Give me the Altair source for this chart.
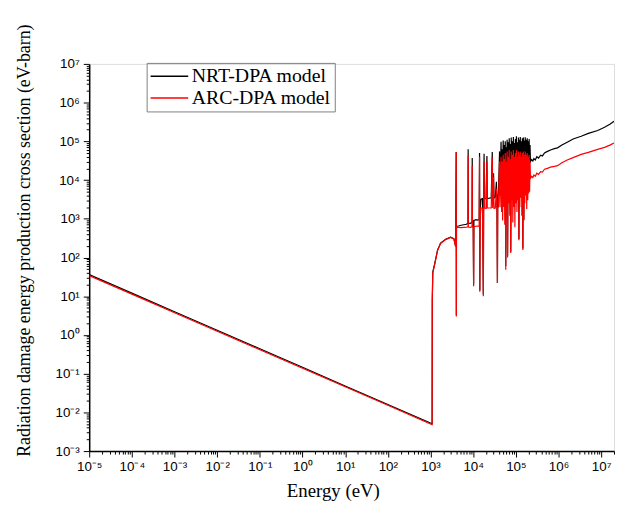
import altair as alt
import pandas as pd

# ---- data (energy in eV, cross section in eV-barn) ----
E_low = [1e-5, 1e-4, 1e-3, 1e-2, 1e-1, 1, 10, 100, 1000, 1090]
nrt_low = [36, 12.0, 3.98, 1.32, 0.44, 0.146, 0.048, 0.016, 0.0053, 0.0051]
arc_low = [34, 11.3, 3.75, 1.25, 0.415, 0.138, 0.046, 0.0152, 0.0050, 0.0048]

E_hump = [1100, 1130, 1250, 1460, 1720, 2260, 2950, 3530, 3880]
nrt_hump = [8, 42, 68, 155, 235, 295, 335, 305, 195]
arc_hump = [8, 40, 65, 150, 230, 290, 330, 300, 190]

E_res = [4000, 4030, 4060, 4500, 5200, 6000, 7000, 7550, 7620, 7700,
         8500, 9400, 9500, 9600, 10000, 10240, 10400, 11500, 12500, 13800]
nrt_res = [53000, 3.2, 640, 650, 680, 700, 720, 780, 62000, 760,
           760, 800, 37000, 850, 880, 20, 900, 950, 920, 950]
arc_res = [53000, 3.0, 600, 600, 590, 600, 610, 620, 42000, 610,
           600, 620, 23000, 620, 600, 18, 620, 640, 650, 640]

E_mid = [14100, 14300, 14600, 15200, 16500, 17300, 17600, 18000, 18300, 20000,
         21000, 21400, 24000, 26500, 28000, 28600, 30000, 30800, 33000, 35000,
         36000, 37000, 37600, 39000, 41500, 42500]
nrt_mid = [50000, 14, 1800, 3200, 3300, 11, 3400, 48000, 3300, 3300,
           42000, 3300, 3400, 3500, 53000, 3400, 15000, 3400, 3600, 9000,
           3800, 22, 4000, 4200, 55000, 4500]
arc_mid = [40000, 13, 1100, 1900, 1900, 10, 1900, 30000, 1900, 1850,
           30000, 1900, 1900, 1900, 38000, 1900, 12000, 1850, 1900, 6000,
           1900, 22, 1950, 2000, 30000, 2000]

E_forest = [45000, 46500, 47500, 49000, 50500, 52000, 53500, 55000, 56500, 58000,
            59500, 61000, 62500, 64000, 66000, 68000, 70000, 72000, 74000, 76000,
            78000, 80000, 82500, 85000, 87500, 90000, 92500, 95000, 97500, 100000,
            103000, 106000, 109000, 112000, 115000, 118000, 121000, 124000, 127000, 130000,
            134000, 138000, 142000, 146000, 150000, 154000, 158000, 162000, 166000, 170000,
            175000, 180000, 185000, 190000, 195000, 200000, 205000, 210000, 215000]
nrt_forest = [98000, 9000, 62000, 12000, 105000, 15000, 80000, 14000, 100000, 60,
              70000, 16000, 110000, 110, 95000, 18000, 120000, 20000, 85000, 140,
              125000, 22000, 100000, 20000, 130000, 25000, 90000, 18000, 115000, 22000,
              135000, 25000, 95000, 20000, 125000, 300, 110000, 26000, 130000, 28000,
              100000, 24000, 120000, 170, 125000, 950, 105000, 26000, 128000, 30000,
              110000, 25000, 120000, 28000, 100000, 30000, 115000, 32000, 80000]
arc_forest = [40000, 1500, 30000, 900, 45000, 2000, 35000, 700, 50000, 48,
              30000, 1800, 55000, 100, 40000, 2500, 60000, 1200, 35000, 130,
              55000, 3000, 45000, 800, 60000, 2000, 40000, 600, 50000, 2500,
              60000, 1500, 40000, 3000, 55000, 280, 45000, 2000, 55000, 3500,
              40000, 1200, 50000, 155, 55000, 900, 45000, 2500, 55000, 4000,
              45000, 1800, 50000, 3000, 40000, 4500, 45000, 5000, 30000]

E_high = [220000, 235000, 250000, 265000, 285000, 310000, 340000, 380000, 420000, 470000,
          550000, 650000, 800000, 950000, 1.2e6, 1.6e6, 2.2e6, 3.4e6, 5e6, 8.3e6,
          1.2e7, 1.6e7, 2e7]
nrt_high = [30000, 34000, 31000, 36000, 33000, 40000, 37000, 44000, 42000, 50000,
            55000, 60000, 65000, 68000, 80000, 95000, 115000, 135000, 160000, 190000,
            230000, 275000, 330000]
arc_high = [11000, 12500, 11500, 13500, 12500, 15000, 14000, 16500, 16000, 19000,
            20000, 21500, 22500, 23500, 28000, 33000, 38000, 46000, 52000, 62000,
            70000, 80000, 91000]

series = ["NRT-DPA model", "ARC-DPA model"]
colors = ["#000000", "#ff0000"]

energy = E_low + E_hump + E_res + E_mid + E_forest + E_high
nrt = nrt_low + nrt_hump + nrt_res + nrt_mid + nrt_forest + nrt_high
arc = arc_low + arc_hump + arc_res + arc_mid + arc_forest + arc_high
assert len(energy) == len(nrt) == len(arc)

df = pd.DataFrame({
    "energy": energy * 2,
    "value": nrt + arc,
    "model": [series[0]] * len(energy) + [series[1]] * len(energy),
    "idx": list(range(len(energy))) * 2,
})

# ---- tick positions (decades with minor ticks) ----
x_ticks = [m * 10.0 ** k for k in range(-5, 8) for m in range(1, 10) if m * 10.0 ** k <= 2.0e7]
y_ticks = [m * 10.0 ** k for k in range(-3, 7) for m in range(1, 10)] + [1e7]

major = "abs(log(datum.value)/LN10 - round(log(datum.value)/LN10)) < 0.001"
sup = "'' + round(log(datum.value)/LN10)"
for a, b in [("-", "⁻"), ("0", "⁰"), ("1", "¹"), ("2", "²"), ("3", "³"), ("4", "⁴"),
             ("5", "⁵"), ("6", "⁶"), ("7", "⁷"), ("8", "⁸"), ("9", "⁹")]:
    sup = f"replace({sup}, '{a}', '{b}')"
label_expr = f"{major} ? '10' + {sup} : ''"
tick_size = {"condition": {"test": major, "value": 6}, "value": 3}

common_axis = dict(
    labelExpr=label_expr, labelOverlap=False, labelFlush=False,
    tickSize=tick_size, tickColor="#000000", tickWidth=1,
    domainColor="#000000", domainWidth=1.5, grid=False,
    labelFont="Liberation Sans", labelFontSize=13.5, labelColor="#000000",
    titleFont="Liberation Serif", titleFontWeight="normal", titleColor="#000000",
)

x_enc = alt.X(
    "energy:Q",
    scale=alt.Scale(type="log", domain=[1e-5, 2e7], nice=False),
    axis=alt.Axis(values=x_ticks, title="Energy (eV)", titleFontSize=19,
                  labelPadding=3, titleX=246, titleY=46,
                  titleBaseline="alphabetic", titleAlign="center", **common_axis),
)
y_enc = alt.Y(
    "value:Q",
    scale=alt.Scale(type="log", domain=[1e-3, 1e7], nice=False),
    axis=alt.Axis(values=y_ticks,
                  title="Radiation damage energy production cross section (eV-barn)",
                  titleFontSize=18, labelPadding=4, titleX=-60, titleY=178,
                  titleAngle=270, titleBaseline="alphabetic", titleAlign="center",
                  **common_axis),
)
color_enc = alt.Color(
    "model:N",
    scale=alt.Scale(domain=series, range=colors),
    title=None,
    legend=alt.Legend(orient="none", legendX=58, legendY=-1,
                      symbolType="M-2,0H2", symbolSize=361, symbolStrokeWidth=1.5,
                      symbolOffset=9.5, labelOffset=12,
                      labelFont="Liberation Serif", labelFontSize=20,
                      labelColor="#000000", strokeColor="#808080", padding=3,
                      rowPadding=1, labelLimit=300),
)

base = alt.Chart(df).mark_line(strokeWidth=1.2, clip=True).encode(
    x=x_enc, y=y_enc, color=color_enc, order="idx:Q"
)
black = base.transform_filter(alt.datum.model == series[0])
red = base.transform_filter(alt.datum.model == series[1])

chart = alt.layer(black, red).properties(
    width=530, height=391,
    autosize=alt.AutoSizeParams(type="none"),
    padding={"left": 82, "top": 54, "right": 2, "bottom": 52},
).configure_view(stroke=None).configure(font="Liberation Serif", background="#ffffff")

chart.save("out.html", embed_options={"renderer": "svg", "actions": False})
